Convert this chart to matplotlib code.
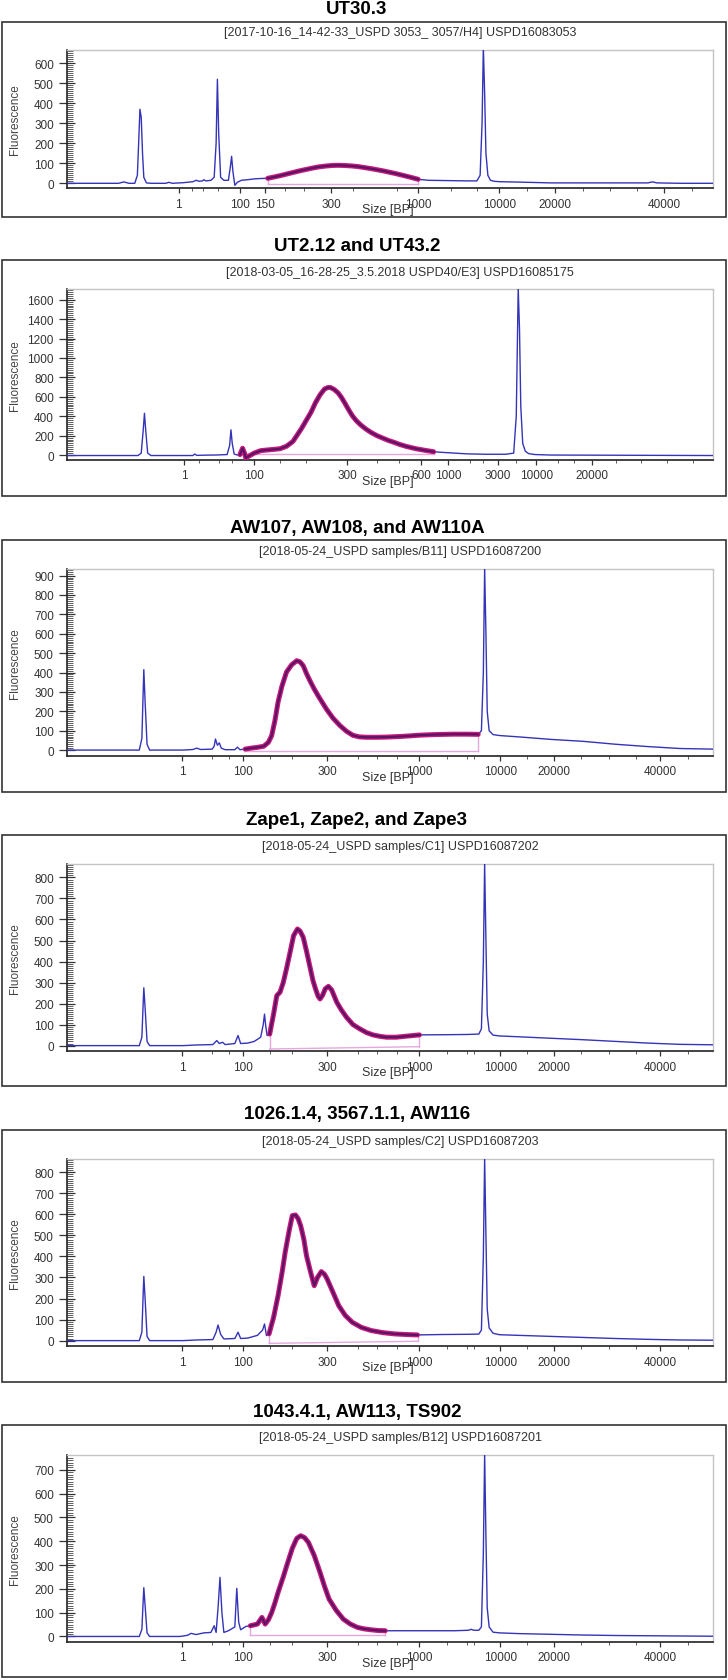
import numpy as np
import matplotlib
matplotlib.use("Agg")
import matplotlib.pyplot as plt
from matplotlib.patches import Rectangle
from matplotlib import font_manager

_names = {f.name for f in font_manager.fontManager.ttflist}
NARROW = 'Liberation Sans Narrow' if 'Liberation Sans Narrow' in _names else 'Liberation Sans'
plt.rcParams['font.family'] = ['Liberation Sans', 'DejaVu Sans']

# ---------------- data ----------------
titles = ["UT30.3", "UT2.12 and UT43.2", "AW107, AW108, and AW110A",
          "Zape1, Zape2, and Zape3", "1026.1.4, 3567.1.1, AW116", "1043.4.1, AW113, TS902"]
subtitles = ["[2017-10-16_14-42-33_USPD 3053_ 3057/H4] USPD16083053",
             "[2018-03-05_16-28-25_3.5.2018 USPD40/E3] USPD16085175",
             "[2018-05-24_USPD samples/B11] USPD16087200",
             "[2018-05-24_USPD samples/C1] USPD16087202",
             "[2018-05-24_USPD samples/C2] USPD16087203",
             "[2018-05-24_USPD samples/B12] USPD16087201"]

# x = migration position (percent of axis width), y = fluorescence
p1_x = ([0, 8.0, 8.8, 9.6, 10.5, 10.9, 11.1, 11.3, 11.5, 11.7, 11.9, 12.3, 13, 15.3, 15.8, 16.3, 18, 19.5, 20.0, 20.5,
         21.0, 21.2, 21.5, 22.3, 22.8, 23.1, 23.3, 23.5, 23.8, 24.3, 25.0, 25.3, 25.5, 25.7, 26.0, 26.4, 27, 28, 29, 30]
        + [31.1, 32, 33, 34, 35, 36, 37, 38, 39, 40, 41, 42, 43, 44, 45, 46, 47, 48, 49, 50, 51, 52, 53, 54.4]
        + [56, 58, 60, 62, 63.5, 64.0, 64.3, 64.5, 64.7, 64.9, 65.2, 65.6, 66.2, 67, 70, 75, 80, 85, 90, 90.7,
           91.4, 95, 100])
p1_y = ([0, 0, 7, 0, 0, 40, 200, 370, 330, 150, 30, 2, 0, 0, 5, 0, 3, 8, 15, 10,
         12, 18, 12, 15, 30, 200, 520, 250, 30, 15, 15, 80, 135, 60, -10, 5, 15, 18, 22, 24]
        + [25, 31, 38, 46, 54, 62, 69, 76, 82, 86, 89, 90, 89, 87, 84, 79, 74, 68, 62, 55, 48, 40, 32, 20]
        + [15, 14, 13, 12, 12, 40, 300, 680, 450, 150, 40, 15, 10, 8, 6, 2, 2, 2, 2, 7,
           2, 0, 0])

p2_x = ([0, 11.0, 11.5, 11.8, 12.0, 12.2, 12.5, 13.0, 19.5, 19.8, 20.1, 22.5, 23.0, 24.8, 25.2, 25.4, 25.6, 25.9, 26.4]
        + [26.8, 27.2, 27.5, 27.7, 28.2, 29, 30, 31, 32, 33, 34, 35, 35.6, 36.3, 37, 37.8, 38.5, 39.2, 39.9, 40.4,
           40.8, 41.4, 42, 42.5, 43, 43.6, 44.2, 44.8, 45.5, 46.3, 47.1, 48, 49, 49.8, 50.7, 51.6, 52.5, 53.4,
           54.3, 55.5, 56.8]
        + [58, 60, 62, 65, 68, 69.2, 69.6, 69.9, 70.1, 70.3, 70.6, 71.0, 71.5, 72.5, 75, 100])
p2_y = ([-5, -5, 20, 250, 430, 250, 20, -5, -5, 10, -3, 0, 0, 5, 100, 260, 120, 10, 0]
        + [5, 70, 20, -30, -10, 20, 45, 52, 58, 65, 90, 140, 200, 270, 350, 440, 540, 620, 680, 695,
           696, 675, 640, 595, 540, 470, 405, 355, 310, 268, 233, 200, 172, 150, 130, 108, 90, 75,
           62, 48, 34]
        + [28, 20, 12, 8, 8, 20, 400, 1720, 1300, 500, 120, 40, 15, 5, 0, -5])

p3_x = ([0, 11.2, 11.6, 11.8, 11.9, 12.1, 12.4, 12.8, 18, 19.5, 20.1, 20.7, 22.5, 22.8, 23.0, 23.3, 23.6, 23.9,
         24.5, 26.0, 26.4, 26.8]
        + [27.6, 28.5, 29.5, 30.5, 31.2, 31.7, 32.2, 32.7, 33.3, 34, 34.8, 35.6, 36.1, 36.6, 37.1, 37.6, 38.3, 39,
           39.6, 40.2, 41.2, 42.3, 43.3, 44.3, 45.3, 46.4, 48, 49.5, 51.5, 53, 54.7, 57, 59.8, 62, 63.7]
        + [64.2, 64.5, 64.7, 64.9, 65.1, 65.4, 66, 67, 70, 75, 80, 85, 90, 95, 100])
p3_y = ([0, 0, 60, 300, 415, 250, 30, 0, 0, 3, 10, 3, 5, 20, 57, 25, 37, 10,
         2, 2, 15, 2]
        + [5, 10, 14, 20, 40, 74, 150, 248, 330, 402, 440, 461, 455, 435, 395, 360, 315, 275,
           243, 211, 165, 126, 97, 76, 68, 66, 66, 67, 70, 73, 77, 80, 82, 82, 81]
        + [100, 400, 940, 600, 200, 100, 80, 75, 68, 55, 45, 30, 18, 8, 5])

p4_x = ([0, 11.2, 11.6, 11.8, 11.9, 12.1, 12.4, 12.8, 18, 20, 22.6, 23.2, 23.6, 24.1, 24.5, 26.0, 26.5, 26.9,
         28, 29, 30.0, 30.4, 30.6, 30.8, 31.0]
        + [31.4, 32.0, 32.5, 33.0, 33.5, 34.0, 34.6, 35.1, 35.7, 36.1, 36.6, 37.1, 37.6, 38.1, 38.5, 38.9, 39.2,
           39.6, 40.0, 40.5, 41.0, 41.8, 42.5, 43.3, 44.3, 45.4, 46.4, 47.4, 48.5, 49.5, 51, 52.6, 54.6]
        + [58.8, 62, 63.8, 64.2, 64.5, 64.7, 64.9, 65.1, 65.4, 66, 67, 70, 75, 80, 85, 90, 95, 100])
p4_y = ([0, 0, 40, 200, 275, 180, 20, 0, 0, 3, 5, 24, 10, 16, 5, 10, 48, 10,
         12, 20, 40, 100, 150, 90, 48]
        + [55, 150, 238, 254, 300, 365, 450, 523, 555, 545, 515, 450, 380, 310, 270, 235, 222,
           240, 270, 282, 265, 206, 170, 135, 100, 79, 62, 51, 44, 40, 40, 45, 51]
        + [52, 53, 55, 80, 400, 870, 500, 150, 70, 50, 46, 42, 35, 28, 20, 12, 6, 4])

p5_x = ([0, 11.2, 11.6, 11.8, 11.9, 12.1, 12.4, 12.8, 18, 20, 22.6, 23.1, 23.4, 23.8, 24.3, 26.0, 26.5, 26.9,
         28, 29.5, 30.3, 30.6, 30.9]
        + [31.3, 32, 32.7, 33.3, 33.8, 34.4, 34.9, 35.4, 35.8, 36.2, 36.7, 37.1, 37.7, 38.3, 38.8, 39.4, 39.9,
           40.3, 41.2, 42.1, 43.1, 44.2, 45.6, 47.1, 48.9, 50.7, 52.5, 54.3]
        + [58, 62, 63.8, 64.2, 64.5, 64.7, 64.9, 65.1, 65.4, 66, 67, 70, 75, 80, 85, 90, 95, 100])
p5_y = ([0, 0, 40, 220, 305, 200, 20, 0, 0, 3, 5, 40, 74, 30, 8, 10, 40, 10,
         12, 25, 50, 79, 24]
        + [32, 110, 214, 320, 420, 520, 594, 597, 580, 546, 480, 404, 330, 261, 300, 328, 315,
           293, 230, 166, 120, 87, 63, 48, 38, 32, 29, 27]
        + [29, 30, 31, 50, 400, 870, 500, 150, 60, 35, 28, 25, 20, 15, 10, 6, 3, 2])

p6_x = ([0, 11.2, 11.6, 11.8, 11.9, 12.1, 12.4, 12.8, 17.5, 18.7, 19.2, 20, 21.2, 22.3, 22.8, 23.1, 23.4, 23.7,
         24.0, 24.3, 25.0, 26.0, 26.3, 26.6, 26.9, 27.7]
        + [28.4, 29.5, 30.2, 30.7, 31.2, 31.7, 32.2, 32.7, 33.5, 34.2, 34.9, 35.6, 36.2, 36.8, 37.4, 38.3, 39.2,
           39.9, 40.6, 41.7, 42.8, 43.9, 45.0, 46.0, 47.1, 48.2, 49.3]
        + [52, 56, 60, 62.2, 62.6, 63.0, 63.8, 64.2, 64.5, 64.7, 64.9, 65.1, 65.4, 66, 67, 70, 75, 80, 85, 90,
           95, 100])
p6_y = ([0, 0, 30, 150, 205, 130, 15, 0, 0, 5, 13, 8, 15, 17, 45, 17, 120, 248,
         100, 17, 24, 40, 202, 60, 28, 42]
        + [45, 52, 80, 52, 70, 100, 140, 185, 250, 311, 370, 412, 423, 415, 395, 340, 269,
           210, 157, 110, 73, 52, 38, 32, 28, 25, 24]
        + [24, 24, 24, 26, 30, 26, 26, 40, 350, 770, 420, 120, 40, 18, 15, 12, 9, 6, 4, 3,
           2, 1])

traces_x = [p1_x, p2_x, p3_x, p4_x, p5_x, p6_x]
traces_y = [p1_y, p2_y, p3_y, p4_y, p5_y, p6_y]

# smear region (start, end in position units) and its baseline (fluorescence)
region_start = [31.1, 26.8, 27.6, 31.4, 31.3, 28.4]
region_end = [54.4, 56.8, 63.7, 54.6, 54.3, 49.3]
region_base0 = [-3, 10, -6, -16, -13, 8]
region_base1 = [-3, 10, -6, -5, -3, 8]

y_limits = [(-25, 668), (-48, 1710), (-29, 934), (-27, 864), (-27, 863), (-22, 762)]
y_major = [100, 200, 100, 100, 100, 100]
y_top_tick = [600, 1600, 900, 800, 800, 700]

xt_std = [17.8, 27.2, 40.3, 54.5, 67.1, 75.4, 91.9]
xl_std = ['1', '100', '300', '1000', '10000', '20000', '40000']
xtick_pos = [[17.3, 26.8, 30.6, 40.9, 54.4, 67.0, 75.6, 92.5],
             [18.2, 29.0, 43.4, 54.9, 59.0, 66.7, 72.7, 81.3],
             xt_std, xt_std, xt_std, xt_std]
xtick_lab = [['1', '100', '150', '300', '1000', '10000', '20000', '40000'],
             ['1', '100', '300', '600', '1000', '3000', '10000', '20000'],
             xl_std, xl_std, xl_std, xl_std]
xm_std = [22.4, 25.1, 31.4, 34.8, 45.1, 48.0, 51.1, 58.8, 61.9, 63.0, 71.3, 79.7, 84.0, 88.2, 96.2]
xminor_pos = [[19.3, 21.1, 23.4, 33.8, 36.7, 44.3, 51.1, 59.5, 63.5, 71.3, 79.9, 84.1, 88.3, 96.8],
              [20.5, 23.5, 25.5, 33.0, 37.0, 48.0, 51.5, 62.5, 64.5, 69.5, 76.0, 78.5, 85.0, 89.0, 93.0, 97.0],
              xm_std, xm_std, xm_std, xm_std]

# ---------------- layout (pixels) ----------------
W, H = 728, 1681
boxes = [(22.7, 218.3), (260.7, 496.7), (540.7, 793.3), (835.7, 1087.3), (1130.7, 1383.3), (1426, 1678.3)]
axes_y = [(50.7, 189.3), (290, 460.7), (570, 756.7), (865, 1052.3), (1160, 1347.3), (1456, 1642.7)]
titles_y = [10, 246.7, 528.3, 820.7, 1115, 1412.3]
subs_y = [33, 273.3, 552.3, 847.3, 1142.3, 1437.7]
AX_L, AX_R = 67, 712.5

BLUE = '#3434b8'
fig = plt.figure(figsize=(W / 100, H / 100), dpi=100)
fig.patch.set_facecolor('white')


def fy(py):
    return 1 - py / H


for i in range(6):
    b0, b1 = boxes[i]
    fig.patches.append(Rectangle((2 / W, fy(b1)), 724 / W, (b1 - b0) / H, transform=fig.transFigure,
                                 fill=False, edgecolor='#333333', linewidth=1.2))
    fig.text(357 / W, fy(titles_y[i]), titles[i], ha='center', va='center', fontsize=13.5,
             fontweight='bold', family=[NARROW, 'DejaVu Sans'], color='black')
    fig.text(400 / W, fy(subs_y[i]), subtitles[i], ha='center', va='center', fontsize=9,
             family=[NARROW, 'DejaVu Sans'], color='#333333')
    t, b = axes_y[i]
    ax = fig.add_axes([AX_L / W, fy(b), (AX_R - AX_L) / W, (b - t) / H])
    x = np.array(traces_x[i], dtype=float)
    y = np.array(traces_y[i], dtype=float)
    ax.plot(x, y, color=BLUE, lw=1.0, zorder=3)
    m = (x >= region_start[i]) & (x <= region_end[i])
    ax.plot(x[m], y[m], color='#c8187c', lw=3.6, solid_capstyle='round', solid_joinstyle='round', zorder=4)
    ax.plot(x[m], y[m], color='#5a1464', lw=1.6, solid_joinstyle='round', zorder=5)
    ys = y[m][0]
    ye = y[m][-1]
    pink = '#e4a8df'
    ax.plot([region_start[i], region_end[i]], [region_base0[i], region_base1[i]], color=pink, lw=1.0, zorder=2)
    ax.plot([region_start[i], region_start[i]], [region_base0[i], ys], color=pink, lw=1.0, zorder=2)
    ax.plot([region_end[i], region_end[i]], [region_base1[i], ye], color=pink, lw=1.0, zorder=2)

    ax.set_xlim(0, 100)
    ax.set_ylim(*y_limits[i])
    ax.set_yticks(np.arange(0, y_top_tick[i] + 1, y_major[i]))
    ax.set_yticks(np.arange(0, y_limits[i][1], y_major[i] / 10), minor=True)
    ax.set_xticks(xtick_pos[i])
    ax.set_xticklabels(xtick_lab[i])
    ax.set_xticks(xminor_pos[i], minor=True)
    ax.tick_params(axis='y', which='major', direction='inout', length=11, width=0.9, pad=4,
                   labelsize=8.5, labelcolor='#333333', color='#333333')
    ax.tick_params(axis='y', which='minor', direction='in', length=4, width=0.6, color='#444444')
    ax.tick_params(axis='x', which='major', direction='out', length=3.5, width=0.9, pad=3.5,
                   labelsize=8.5, labelcolor='#333333', color='#333333')
    ax.tick_params(axis='x', which='minor', direction='out', length=2.5, width=0.6, color='#444444')
    for lab in ax.get_xticklabels() + ax.get_yticklabels():
        lab.set_family([NARROW, 'DejaVu Sans'])
    for s in ['left', 'bottom']:
        ax.spines[s].set_color('#222222')
        ax.spines[s].set_linewidth(1.2)
    for s in ['top', 'right']:
        ax.spines[s].set_color('#c4c4c4')
        ax.spines[s].set_linewidth(1.0)
    fig.text(15 / W, fy((t + b) / 2), 'Fluorescence', rotation=90, ha='center', va='center',
             fontsize=8.5, color='#444444', family=[NARROW, 'DejaVu Sans'])
    fig.text(388 / W, fy(b + 21), 'Size [BP]', ha='center', va='center', fontsize=9,
             color='#333333', family=[NARROW, 'DejaVu Sans'])

fig.savefig('out.png', dpi=100, facecolor='white')
